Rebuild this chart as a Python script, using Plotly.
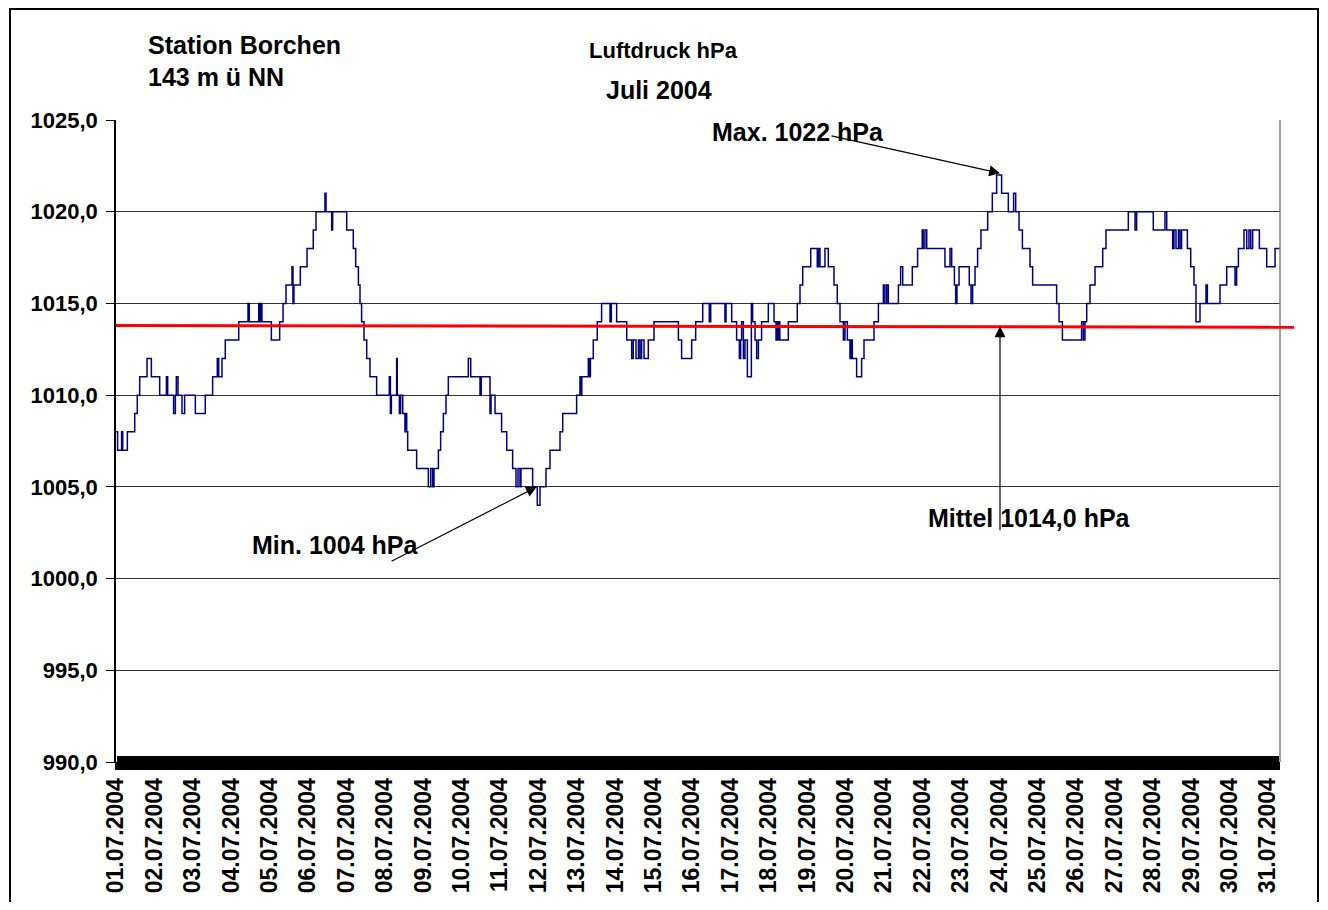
import pandas as pd
import plotly.graph_objects as go

# ---------------- data ----------------
start = pd.Timestamp("2004-07-01 00:00")
end_hours = 727.5  # last plotted sample, hours after start

# step series: hours after 01.07.2004 00:00 where the value changes, and the value (hPa)
hours = [0, 1, 3.5, 4.2, 7.1, 11.7, 13.3, 14.8, 19.4, 22.1, 27.3, 31.5, 32.3, 36.0, 37.1, 37.7,
         38.75, 41.25, 42.9, 49.6, 55.8, 60.4, 63.3, 64.2, 66.25, 68.3, 76.7, 82.5, 83.3, 89.2,
         89.8, 90.4, 91.2, 97.1, 102.3, 104.4, 106.25, 110, 110.6, 111.2, 115.2, 119.4, 123.3,
         125, 130.6, 131.25, 134.8, 135.4, 144.2, 148.3, 149.8, 151.5, 152.5, 153.5, 155, 156.7,
         158.75, 162.9, 170.8, 171.5, 172.1, 175.4, 175.8, 177.1, 177.9, 179.2, 180.6, 181.3,
         181.7, 182.3, 187.9, 195.2, 196.7, 197.9, 198.75, 201.5, 202.9, 204.6, 206.25, 207.7,
         220.2, 221.7, 227.5, 228.3, 233.75, 234.4, 236.9, 241.0, 244.2, 247.9, 250, 251.25,
         252.5, 253.1, 260.4, 263.3, 265, 268.75, 271.25, 277.5, 279.2, 287.9, 290, 290.5, 291.1,
         295.2, 296, 296.5, 298.3, 300.8, 303.5, 308.75, 309.6, 312.9, 319.2, 322.3, 323.3, 325,
         326.5, 327.5, 328.5, 330, 332.7, 336.25, 351.5, 353.5, 359.8, 362.3, 366.7, 370.8,
         371.7, 380.6, 381.25, 384.8, 387.9, 389.6, 390.4, 391, 392.1, 393.1, 394.6, 397.1,
         397.9, 399.4, 400.4, 401.5, 403.5, 407.7, 411.25, 412.5, 413.1, 413.7, 414.3, 414.9,
         420.2, 425.8, 427.5, 429.2, 434.2, 438.3, 439, 440, 443.1, 445.2, 448.75, 450.8, 452.5,
         454.6, 455.6, 457.1, 458.75, 459.5, 460.2, 462.9, 466, 467.5, 473.75, 476.5, 479.6,
         480.6, 481.7, 482.7, 489, 490.4, 491.7, 497.7, 501, 503.9, 504.5, 505.6, 506.7, 518.1,
         521.25, 522.3, 524, 524.8, 525.6, 526.9, 533.3, 534.4, 535.4, 536.9, 538.5, 540.6,
         544.8, 547.7, 550.4, 553.5, 557.7, 561, 562.3, 564.4, 566.5, 571.25, 572.9, 587.9,
         589.4, 591.5, 603.5, 604.6, 605.6, 606.7, 608.75, 611.9, 616.7, 618.75, 632.7, 636.9,
         637.9, 648.3, 655.6, 656.7, 660.4, 661.25, 662.5, 664, 665, 666, 669.6, 671.7, 673.75,
         675, 677.5, 681.25, 682.1, 690, 694.2, 699.4, 700.4, 701.5, 705, 706.7, 708.1, 709.2,
         710.4, 714.6, 719.2, 724.4, 727.5]
hpa = [1008, 1007, 1008, 1007, 1008, 1009, 1010, 1011, 1012, 1011, 1010, 1011, 1010, 1009, 1010, 1011,
       1010, 1009, 1010, 1009, 1010, 1011, 1012, 1011, 1012, 1013, 1014, 1015, 1014, 1015,
       1014, 1015, 1014, 1013, 1014, 1015, 1016, 1017, 1015, 1016, 1017, 1018, 1019,
       1020, 1021, 1020, 1019, 1020, 1019, 1018, 1017, 1016, 1015, 1014, 1013, 1012,
       1011, 1010, 1011, 1009, 1010, 1012, 1010, 1009, 1010, 1009, 1008, 1009,
       1008, 1007, 1006, 1005, 1006, 1005, 1006, 1007, 1008, 1009, 1010, 1011,
       1012, 1011, 1010, 1011, 1009, 1010, 1009, 1008, 1007, 1006, 1005, 1006,
       1005, 1006, 1005, 1004, 1005, 1006, 1007, 1008, 1009, 1010, 1011, 1010, 1011,
       1012, 1011, 1012, 1013, 1014, 1015, 1014, 1015, 1014, 1013, 1012, 1013, 1012,
       1013, 1012, 1013, 1012, 1013, 1014, 1013, 1012, 1013, 1014, 1015, 1014,
       1015, 1014, 1015, 1014, 1013, 1012, 1013, 1014, 1012, 1013, 1011, 1015,
       1014, 1013, 1012, 1013, 1014, 1015, 1014, 1013, 1014, 1013, 1014, 1013,
       1014, 1015, 1016, 1017, 1018, 1017, 1018, 1017, 1018, 1017, 1016, 1015, 1014,
       1013, 1014, 1013, 1012, 1013, 1012, 1011, 1012, 1013, 1014, 1015, 1016,
       1015, 1016, 1015, 1016, 1017, 1016, 1017, 1018, 1019, 1018, 1019, 1018, 1017,
       1018, 1017, 1016, 1015, 1016, 1017, 1016, 1015, 1016, 1017, 1018, 1019,
       1020, 1021, 1022, 1021, 1020, 1021, 1020, 1019, 1018, 1017, 1016, 1015,
       1014, 1013, 1014, 1013, 1014, 1015, 1016, 1017, 1018, 1019, 1020, 1019,
       1020, 1019, 1020, 1019, 1018, 1019, 1018, 1019, 1018, 1019, 1018, 1017, 1016,
       1014, 1015, 1016, 1015, 1016, 1017, 1016, 1017, 1018, 1019, 1018, 1019, 1018,
       1019, 1018, 1017, 1018, 1018]

day_labels = ["01.07.2004", "02.07.2004", "03.07.2004", "04.07.2004", "05.07.2004", "06.07.2004",
              "07.07.2004", "08.07.2004", "09.07.2004", "10.07.2004", "11.07.2004", "12.07.2004",
              "13.07.2004", "14.07.2004", "15.07.2004", "16.07.2004", "17.07.2004", "18.07.2004",
              "19.07.2004", "20.07.2004", "21.07.2004", "22.07.2004", "23.07.2004", "24.07.2004",
              "25.07.2004", "26.07.2004", "27.07.2004", "28.07.2004", "29.07.2004", "30.07.2004",
              "31.07.2004"]

y_range = [990, 1025]
mean_line = [1013.8, 1013.7]          # drawn mean line (left / right end)
max_point = (552.5, 1022.1)           # hours, hPa
min_point = (263.0, 1005.0)
mean_arrow_hour = 552.5

# ---------------- figure ----------------
T = lambda h: start + pd.Timedelta(hours=h)
x = [T(h) for h in hours]
tickvals = [start + pd.Timedelta(days=i) for i in range(len(day_labels))]

FONT = "Liberation Sans, Arial, sans-serif"
fig = go.Figure()
fig.add_trace(go.Scatter(x=x, y=hpa, mode="lines", line=dict(color="#000080", width=1.5, shape="hv"),
                         hoverinfo="skip", showlegend=False))
# helper trace so that the second (tick band) axis is drawn
fig.add_trace(go.Scatter(x=[start], y=[y_range[0]], xaxis="x2", mode="markers",
                         marker=dict(opacity=0), hoverinfo="skip", showlegend=False))

xr = [start, T(end_hours)]
# page body has an 8px margin: figure kept inside the viewport, margins shifted by 8px
fig.update_layout(
    width=1312, height=894,
    paper_bgcolor="white", plot_bgcolor="white",
    margin=dict(l=108, r=40, t=112, b=140, autoexpand=False),
    separators=",.",
    font=dict(family=FONT, color="black"),
    showlegend=False,
    xaxis=dict(type="date", range=xr, tickmode="array", tickvals=tickvals, ticktext=day_labels,
               tickangle=-90, tickfont=dict(size=23, weight="bold", family=FONT), automargin=False,
               ticks="outside", ticklen=7, tickwidth=1, tickcolor="black", ticklabelstandoff=-1,
               minor=dict(tickmode="linear", tick0=start, dtick=3600000, ticks="outside",
                          ticklen=7, tickwidth=1.7, tickcolor="black", showgrid=False),
               showline=True, linecolor="black", linewidth=1, showgrid=False, zeroline=False),
    xaxis2=dict(type="date", range=xr, overlaying="x", anchor="y", side="bottom",
                tickmode="linear", tick0=start, dtick=3600000, ticks="inside", ticklen=6,
                tickwidth=1.7, tickcolor="black", showticklabels=False, showgrid=False,
                showline=False, zeroline=False, automargin=False),
    yaxis=dict(range=y_range, dtick=5, tick0=990, tickformat=".1f", automargin=False,
               tickfont=dict(size=22, weight="bold", family=FONT),
               ticks="outside", ticklen=8, tickcolor="black", ticklabelstandoff=4,
               showline=True, linecolor="black", linewidth=1.5,
               showgrid=True, gridcolor="#333333", gridwidth=1, zeroline=False),
)

px_x = lambda px: (px - 116) / 1164
px_y = lambda py: (762 - py) / 642

shapes = [
    # outer frame
    dict(type="rect", xref="paper", yref="paper", x0=px_x(10), x1=px_x(1318), y0=px_y(916), y1=px_y(9),
         line=dict(color="black", width=2)),
    # right plot border
    dict(type="line", xref="paper", yref="paper", x0=1, x1=1, y0=0, y1=1,
         line=dict(color="#808080", width=1.5)),
    # mean line
    dict(type="line", xref="paper", yref="y", x0=0, x1=px_x(1294), y0=mean_line[0], y1=mean_line[1],
         line=dict(color="#ff0000", width=3)),
]
fig.update_layout(shapes=shapes)

def txt(text, xp, yp, size, anchor="left"):
    return dict(text=text, xref="paper", yref="paper", x=px_x(xp), y=px_y(yp), xanchor=anchor,
                yanchor="middle", showarrow=False, font=dict(size=size, weight="bold", family=FONT, color="black"))

def arrow(hx, hy, tx, ty):
    return dict(text="", x=T(hx), y=hy, ax=T(tx), ay=ty, xref="x", yref="y", axref="x", ayref="y",
                showarrow=True, arrowhead=2, arrowsize=1.8, arrowwidth=1.2, arrowcolor="black", standoff=0)

annotations = [
    txt("Station Borchen", 146, 45, 25),
    txt("143 m ü NN", 146, 77, 25),
    txt("Luftdruck hPa", 663, 50, 22, "center"),
    txt("Juli 2004", 659, 90, 25, "center"),
    txt("Max. 1022 hPa", 710, 132, 25),
    txt("Min. 1004 hPa", 250, 545, 25),
    txt("Mittel 1014,0 hPa", 926, 518, 25),
    arrow(max_point[0], max_point[1], 446.25, 1024.15),
    arrow(min_point[0], min_point[1], 171.25, 1000.9),
    arrow(mean_arrow_hour, 1013.75, mean_arrow_hour, 1002.55),
]
fig.update_layout(annotations=annotations)

fig.write_html("out.html")
